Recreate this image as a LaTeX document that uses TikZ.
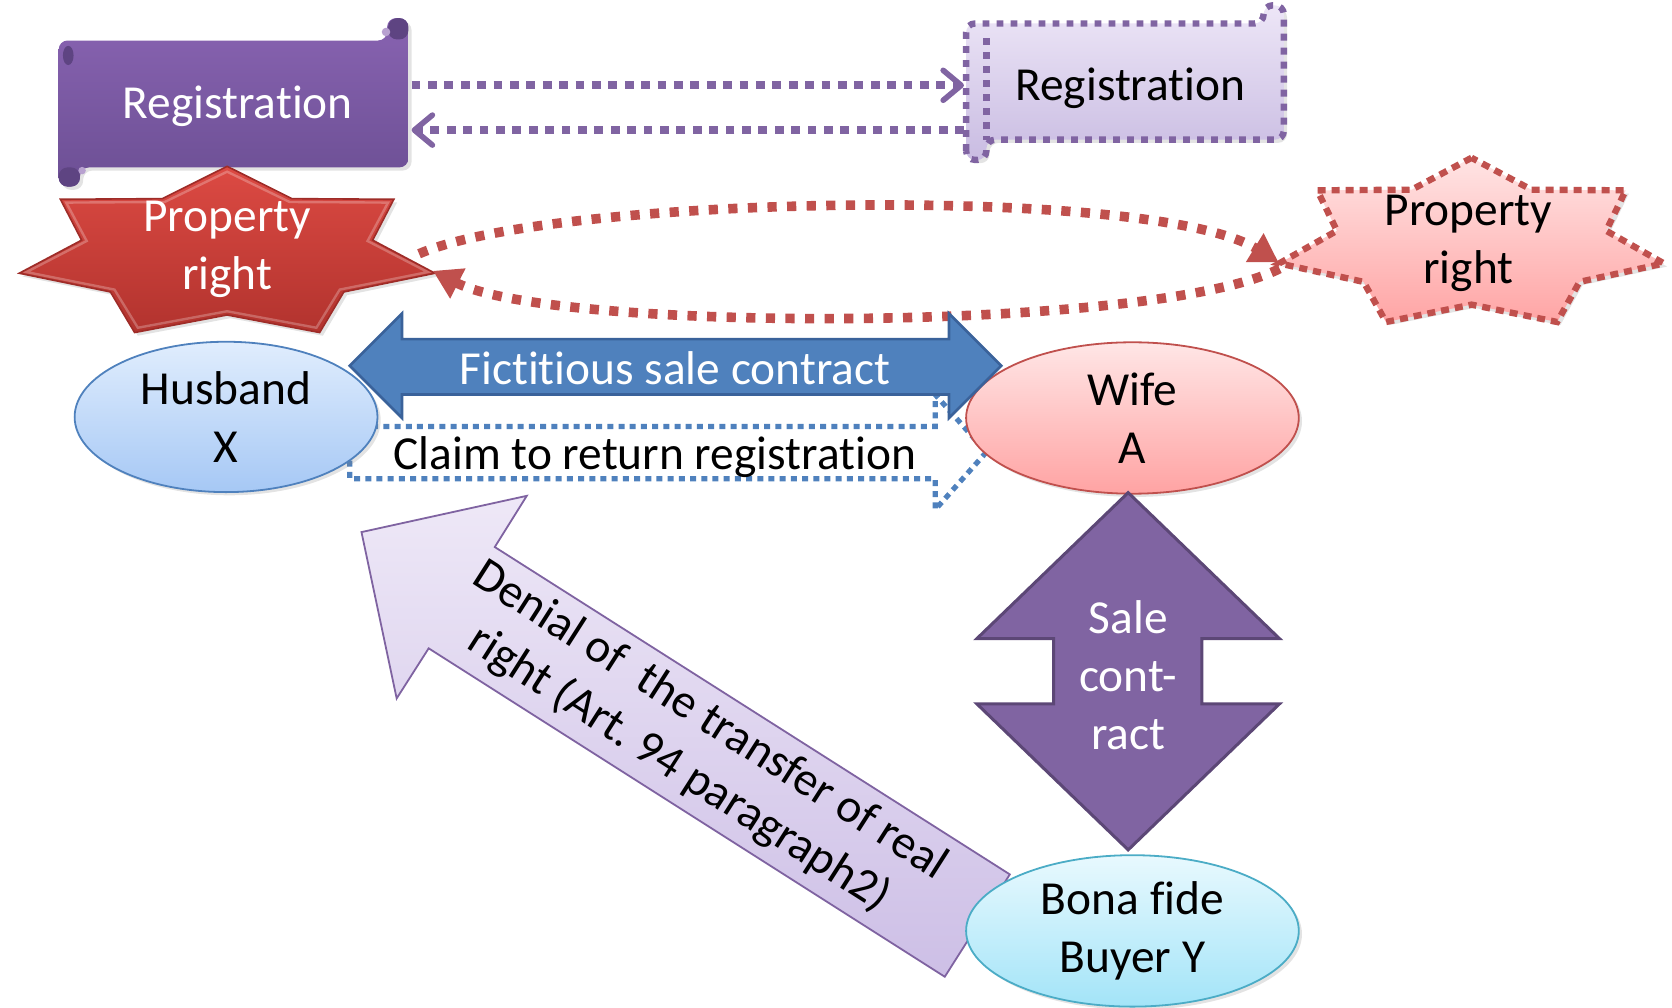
\documentclass[tikz,border=0pt]{standalone}
\usepackage{fontspec}
\setmainfont{Carlito}[Ligatures={NoCommon,NoRare,NoContextual},RawFeature={-liga;-clig;-dlig;-calt}]
\usetikzlibrary{arrows.meta,shadows,shapes.geometric}
\definecolor{purp}{HTML}{8064A2}
\definecolor{scrT}{HTML}{8863B1}
\definecolor{scrB}{HTML}{6C4F94}
\definecolor{scrD}{HTML}{5E4482}
\definecolor{lavT}{HTML}{EDE6F7}
\definecolor{lavB}{HTML}{C9BCE2}
\definecolor{redc}{HTML}{C0504D}
\definecolor{starT}{HTML}{DC4A43}
\definecolor{starB}{HTML}{B2332E}
\definecolor{starD}{HTML}{9E2C28}
\definecolor{pinkT}{HTML}{FFE4E4}
\definecolor{pinkB}{HTML}{FFA5A5}
\definecolor{hbT}{HTML}{E0EDFD}
\definecolor{hbB}{HTML}{A6C8F5}
\definecolor{hbD}{HTML}{4F81BD}
\definecolor{wfT}{HTML}{FFE6E6}
\definecolor{wfB}{HTML}{FFA3A3}
\definecolor{byT}{HTML}{E8F9FE}
\definecolor{byB}{HTML}{A3E4F8}
\definecolor{byD}{HTML}{4BACC6}
\definecolor{bluef}{HTML}{4F81BD}
\definecolor{blueD}{HTML}{3A629A}
\definecolor{saleD}{HTML}{5C4776}
\definecolor{denT}{HTML}{EEE8F7}
\definecolor{denB}{HTML}{CDBFE6}
\definecolor{denD}{HTML}{7F63A1}
\def\uu{0.5332pt}
\frenchspacing
\begin{document}
\begin{tikzpicture}[x=0.5332pt, y=-0.5332pt,
  txt/.style={font=\fontsize{23.7pt}{29pt}\selectfont, align=center, inner sep=0pt},
  shad/.style={drop shadow={opacity=0.22, shadow xshift=1.6pt, shadow yshift=-1.6pt}},
  regarrow/.style={draw=purp, line width=3.8pt, dash pattern=on 4.4pt off 3.8pt,
    -{Straight Barb[length=9pt,width=15pt,line width=2.8pt,round]}},
  redarc/.style={draw=redc, line width=4.8pt, dash pattern=on 4.6pt off 5.2pt,
    -{Triangle[length=14pt,width=16pt]}},
  person/.style={ellipse, txt, minimum width=#1, line width=0.9pt, shad}]
\useasboundingbox (0,0) rectangle (1568,945);

% ---------- Registration scrolls ----------
\path[shad, top color=scrT, bottom color=scrB, rounded corners=4.5pt]
  (55,175) -- (55,38) -- (363,38) -- (363,17) -- (383,17) -- (383,157) -- (75,157) -- (75,175) -- cycle;
\fill[scrD, rounded corners=4.5pt] (364,17) rectangle (383,37);
\fill[scrT!60!white] (362,30) circle [radius=4];
\fill[scrD, rounded corners=4.5pt] (55,157) rectangle (75,175);
\fill[scrT!60!white] (77,160) circle [radius=3.5];
\fill[scrD] (64,52) ellipse [x radius=5, y radius=9];
\node[txt, text=white] (regL) at (223,100) {Registration};

\path[shad, top color=lavT, bottom color=lavB, draw=purp, line width=3.2pt,
  dash pattern=on 3.4pt off 3.6pt, rounded corners=4.5pt]
  (906,150) -- (906,22) -- (1185,22) -- (1185,5) -- (1204,5) -- (1204,131) -- (925,131) -- (925,150) -- cycle;
\draw[purp, line width=3.2pt, dash pattern=on 3.4pt off 3.6pt] (925,36) -- (925,131);
\node[txt] (regR) at (1060,83) {Registration};

\coordinate (rL1) at (386,80);
\coordinate (rR1) at (904,80);
\coordinate (rR2) at (904,122);
\coordinate (rL2) at (386,122);
\draw[regarrow] (rL1) -- (rR1);
\draw[regarrow] (rR2) -- (rL2);

% ---------- Property right stars ----------
\path[shad, top color=starT, bottom color=starB, draw=starD, line width=0.8pt]
  plot[samples at={0,...,13}, variable=\t]
  ({213+200*(1-0.3*mod(\t,2))*cos(90+\t*180/7)}, {238-82*(1-0.3*mod(\t,2))*sin(90+\t*180/7)}) -- cycle;
\draw[white, opacity=0.25, line width=1.2pt]
  plot[samples at={0,...,13}, variable=\t]
  ({213+193*(1-0.3*mod(\t,2))*cos(90+\t*180/7)}, {238-77*(1-0.3*mod(\t,2))*sin(90+\t*180/7)}) -- cycle;
\node[txt, text=white] (starL) at (213,234) {Property\\right};

\path[shad, top color=pinkT, bottom color=pinkB, draw=redc, line width=3.2pt, dash pattern=on 4pt off 3pt]
  plot[samples at={0,...,13}, variable=\t]
  ({1380+185*(1-0.3*mod(\t,2))*cos(90+\t*180/7)}, {229-81*(1-0.3*mod(\t,2))*sin(90+\t*180/7)}) -- cycle;
\node[txt] (starR) at (1377,228) {Property\\right};

\coordinate (aL1) at (393,238);
\coordinate (aR1) at (1199,246);
\coordinate (aR2) at (1200,252);
\coordinate (aL2) at (406,254);
\draw[redarc] (aL1) .. controls (520,183) and (1080,173) .. (aR1);
\draw[redarc] (aR2) .. controls (1080,312) and (520,312) .. (aL2);

% ---------- Claim arrow (behind ellipses) ----------
\draw[bluef, line width=2.6pt, dash pattern=on 3pt off 2.6pt]
  (328,400) -- (877,400) -- (877,370) -- (925,424) -- (877,478) -- (877,449) -- (328,449) -- cycle;
\node[txt] (claim) at (614,429) {Claim to return registration};

% ---------- Denial arrow ----------
\path[top color=denT, bottom color=denB, draw=denD, line width=0.9pt]
  (339,499) -- (494,465) -- (464,513) -- (947,820) -- (886,916) -- (402,608) -- (372,655) -- cycle;
\node[txt, rotate=-32.6] (denial) at (651,699) {Denial of~ the transfer of real\\right (Art. 94 paragraph2)};

% ---------- Persons ----------
\node[person=284*\uu, minimum height=141*\uu, top color=hbT, bottom color=hbB, draw=hbD] (husband) at (212,391) {Husband\\X};
\node[person=312*\uu, minimum height=142*\uu, top color=wfT, bottom color=wfB, draw=redc] (wife) at (1062,392) {Wife\\A};
\node[person=312*\uu, minimum height=142*\uu, top color=byT, bottom color=byB, draw=byD] (buyer) at (1062,873) {Bona fide\\Buyer Y};

% ---------- Fictitious sale contract ----------
\path[fill=bluef, draw=blueD, line width=1.3pt]
  (328,343) -- (377,294) -- (377,318) -- (890,318) -- (890,294) -- (939,343) -- (890,392) -- (890,370) -- (377,370) -- (377,392) -- cycle;
\node[txt, text=white] (fict) at (633,345) {Fictitious sale contract};

% ---------- Sale contract ----------
\path[fill=purp, draw=saleD, line width=1.5pt]
  (1058,462) -- (1200,599) -- (1127,599) -- (1127,660) -- (1200,660) -- (1058,797) -- (916,660) -- (988,660) -- (988,599) -- (916,599) -- cycle;
\node[txt, text=white] (sale) at (1058,633) {Sale\\cont-\\ract};
\end{tikzpicture}
\end{document}
